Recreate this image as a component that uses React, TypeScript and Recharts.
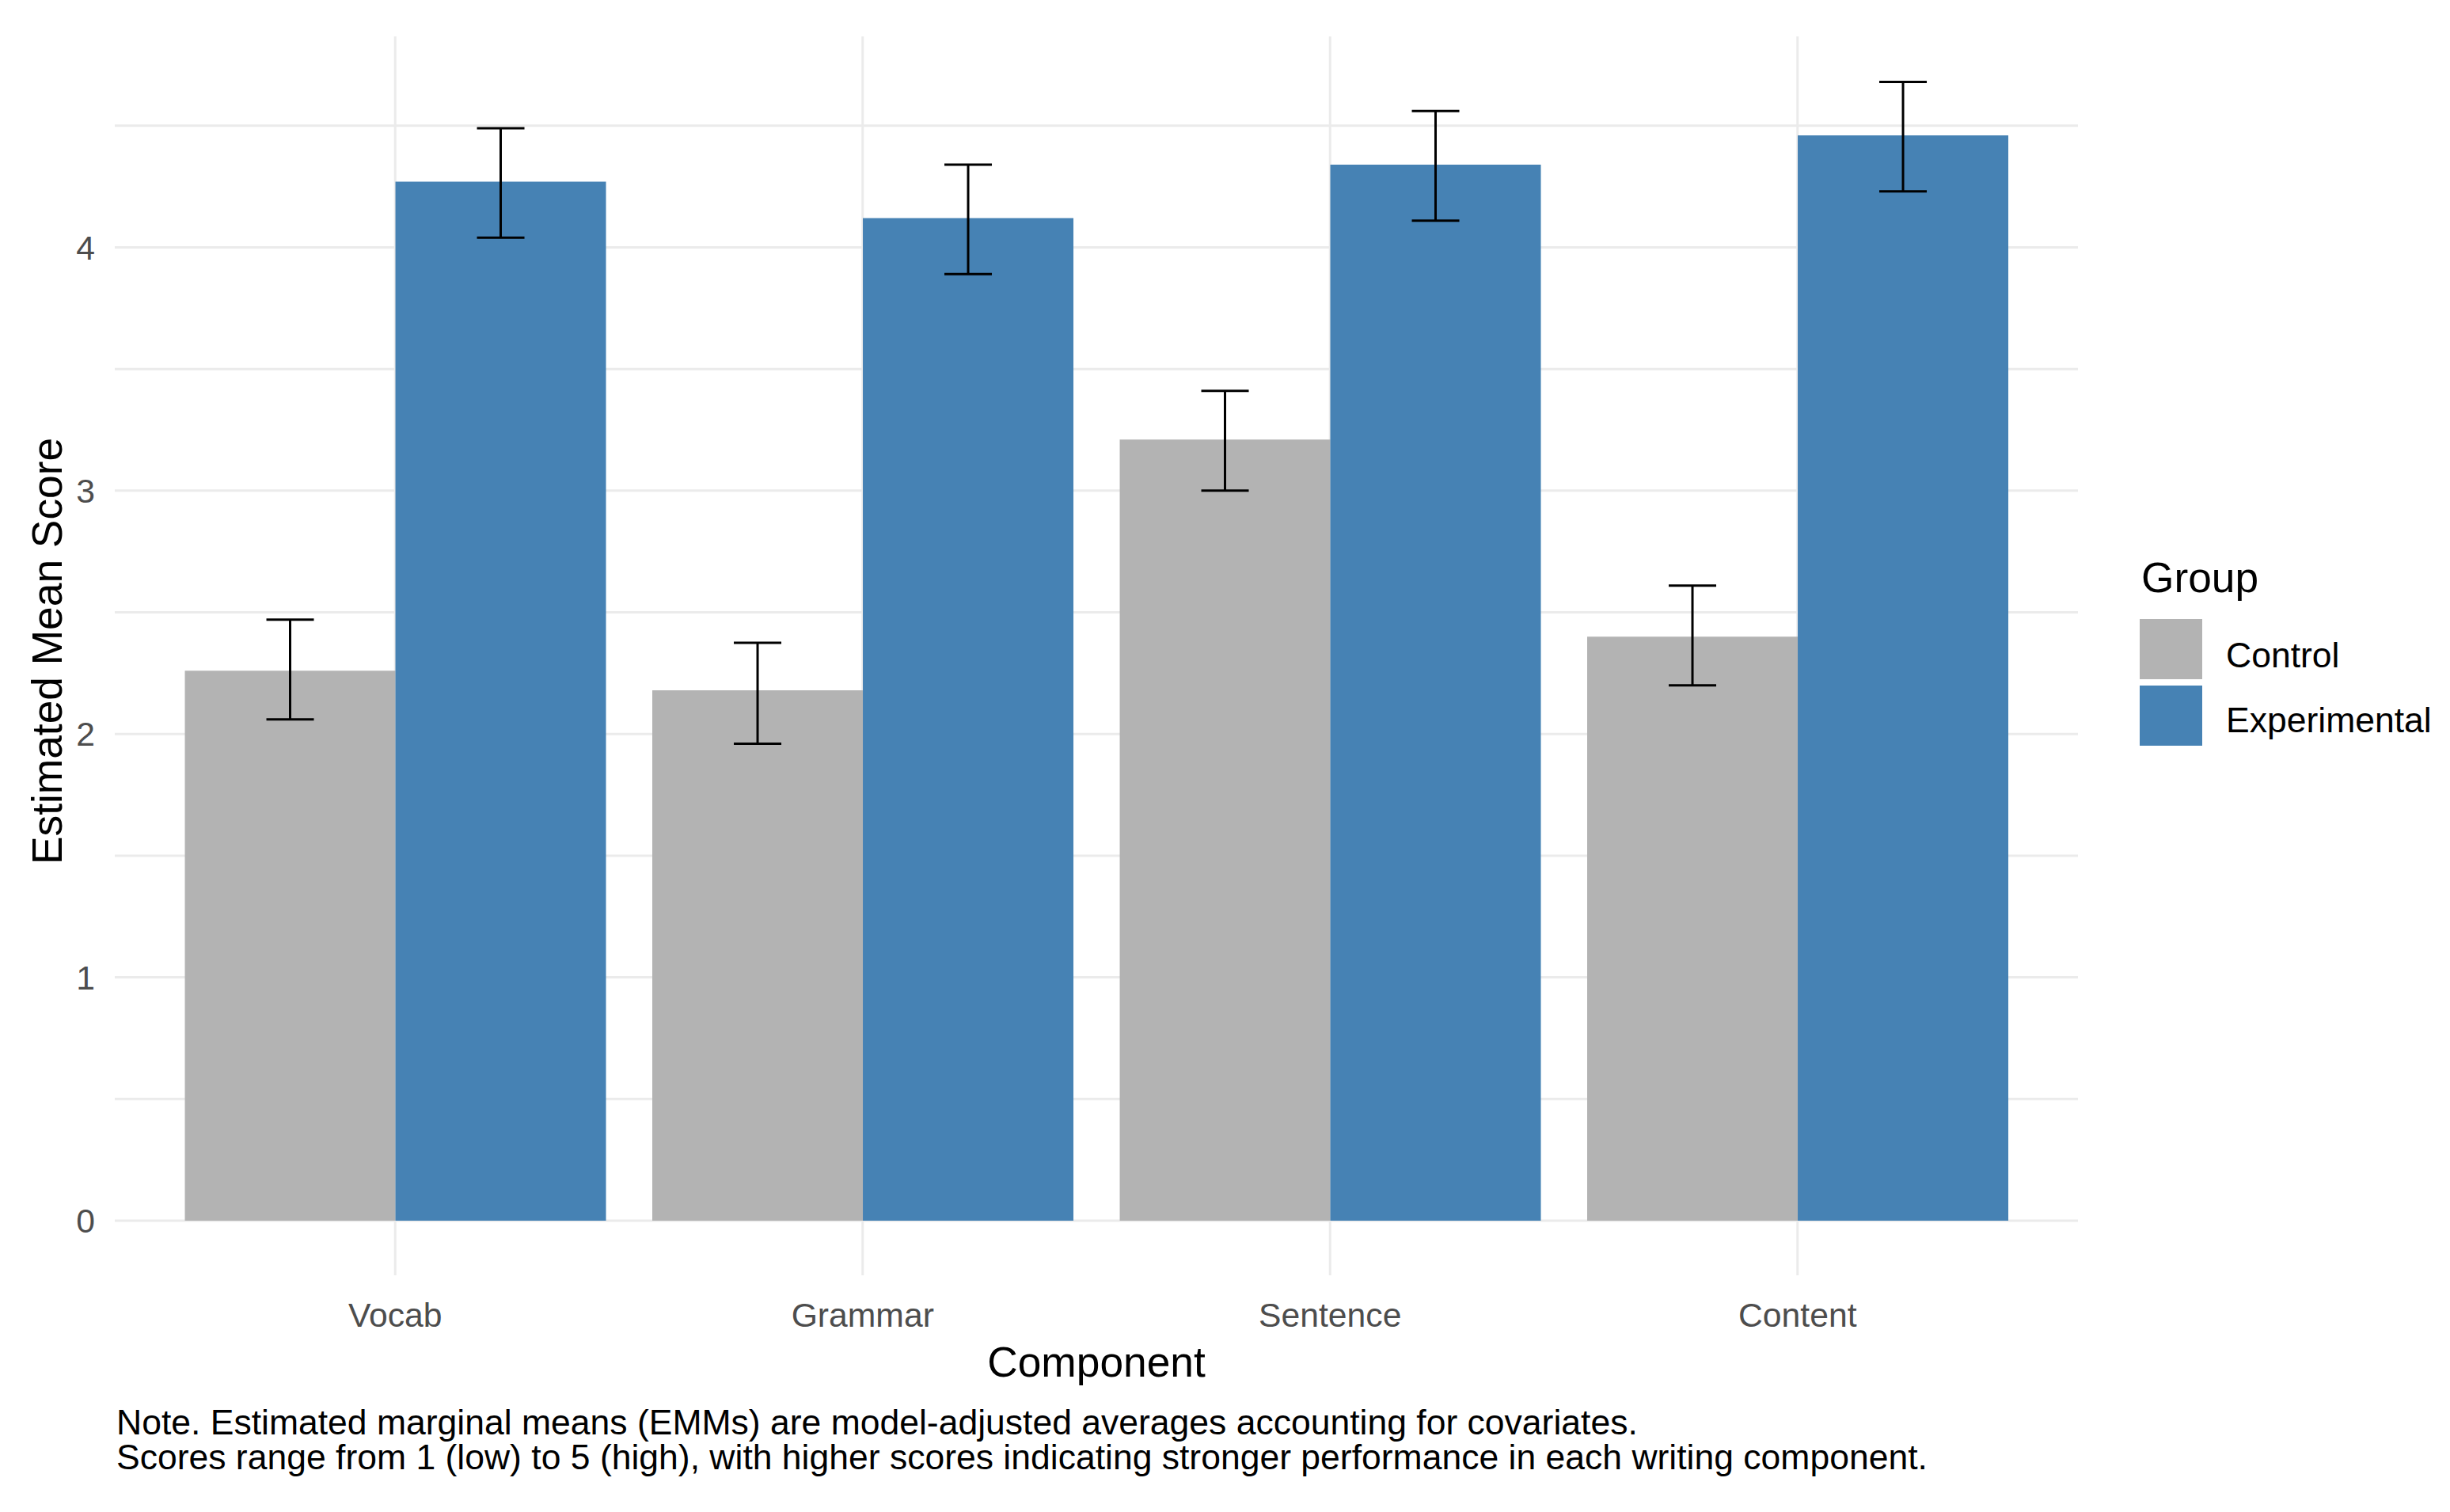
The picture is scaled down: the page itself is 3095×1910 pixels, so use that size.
import React from 'react'
import { BarChart, Bar, XAxis, YAxis, CartesianGrid, ErrorBar, Legend } from 'recharts'

const categories = ['Vocab', 'Grammar', 'Sentence', 'Content']
const controlMean = [2.26, 2.18, 3.21, 2.40]
const controlLow = [2.06, 1.96, 3.0, 2.2]
const controlHigh = [2.47, 2.375, 3.41, 2.61]
const expMean = [4.27, 4.12, 4.34, 4.46]
const expLow = [4.04, 3.89, 4.11, 4.23]
const expHigh = [4.49, 4.34, 4.56, 4.68]
const yTicks = [0, 1, 2, 3, 4]
const gridValues = [0, 0.5, 1, 1.5, 2, 2.5, 3, 3.5, 4, 4.5]
const groups = ['Control', 'Experimental']

const FONT = '"Liberation Sans", Arial, sans-serif'
const GREY = '#B3B3B3'
const BLUE = '#4682B4'
const GRID = '#EBEBEB'

const rows = categories.map((c, i) => ({
  component: c,
  Control: controlMean[i],
  controlErr: [controlMean[i] - controlLow[i], controlHigh[i] - controlMean[i]],
  Experimental: expMean[i],
  expErr: [expMean[i] - expLow[i], expHigh[i] - expMean[i]],
}))

function XTitle(props: any) {
  const vb = props.viewBox
  const cx = vb.x + vb.width / 2
  return (
    <g style={{ fontFamily: FONT }}>
      <text x={cx} y={vb.y + 128} textAnchor="middle" fontSize={53.3} fill="#000">
        Component
      </text>
      <text x={vb.x + 2} y={vb.y + 201} fontSize={44.5} fill="#000">
        Note. Estimated marginal means (EMMs) are model-adjusted averages accounting for covariates.
      </text>
      <text x={vb.x + 2} y={vb.y + 245} fontSize={44.5} fill="#000">
        Scores range from 1 (low) to 5 (high), with higher scores indicating stronger performance in each writing component.
      </text>
    </g>
  )
}

function YTitle(props: any) {
  const vb = props.viewBox
  const cy = vb.y + vb.height / 2 - 6
  const x = 78
  return (
    <text
      x={x}
      y={cy}
      transform={`rotate(-90 ${x} ${cy})`}
      textAnchor="middle"
      fontSize={53.3}
      fill="#000"
      style={{ fontFamily: FONT }}
    >
      Estimated Mean Score
    </text>
  )
}

function GroupLegend(props: any) {
  const items = (props.payload || []).filter((p: any) => groups.includes(p.value))
  return (
    <svg width={395} height={300} style={{ fontFamily: FONT, display: 'block' }}>
      <text x={5} y={58} fontSize={53.3} fill="#000">Group</text>
      {items.map((p: any, i: number) => (
        <g key={p.value}>
          <rect x={3} y={92 + i * 84} width={79} height={76} fill={p.color} />
          <text x={112} y={153 + i * 82} fontSize={44.5} fill="#000">{p.value}</text>
        </g>
      ))}
    </svg>
  )
}

export default function App() {
  return (
    <div style={{ width: 3095, height: 1910, background: '#fff' }}>
      <style>{'body{margin:0}'}</style>
      <BarChart
        width={3095}
        height={1910}
        data={rows}
        margin={{ top: 46, right: 470, bottom: 0, left: 0 }}
        barCategoryGap="5%"
        barGap={0}
      >
        <CartesianGrid stroke={GRID} strokeWidth={3} syncWithTicks horizontalValues={gridValues} />
        <XAxis
          dataKey="component"
          padding={{ left: 59, right: 59 }}
          axisLine={false}
          tickLine={false}
          tickSize={0}
          tickMargin={35}
          height={299}
          tick={{ fontSize: 42.7, fill: '#4D4D4D', fontFamily: FONT }}
          label={XTitle}
        />
        <YAxis
          type="number"
          domain={[-0.2245, 4.867]}
          ticks={yTicks}
          allowDataOverflow
          width={145}
          axisLine={false}
          tickLine={false}
          tickSize={0}
          tickMargin={25}
          tick={{ fontSize: 42.7, fill: '#4D4D4D', fontFamily: FONT }}
          label={YTitle}
        />
        <Bar dataKey="Control" fill={GREY} isAnimationActive={false}>
          <ErrorBar dataKey="controlErr" width={30} stroke="#000" strokeWidth={3} />
        </Bar>
        <Bar dataKey="Experimental" fill={BLUE} isAnimationActive={false}>
          <ErrorBar dataKey="expErr" width={30} stroke="#000" strokeWidth={3} />
        </Bar>
        <Legend
          layout="vertical"
          align="center"
          verticalAlign="middle"
          wrapperStyle={{ left: 2700, top: 690, width: 395 }}
          content={GroupLegend}
        />
      </BarChart>
    </div>
  )
}
